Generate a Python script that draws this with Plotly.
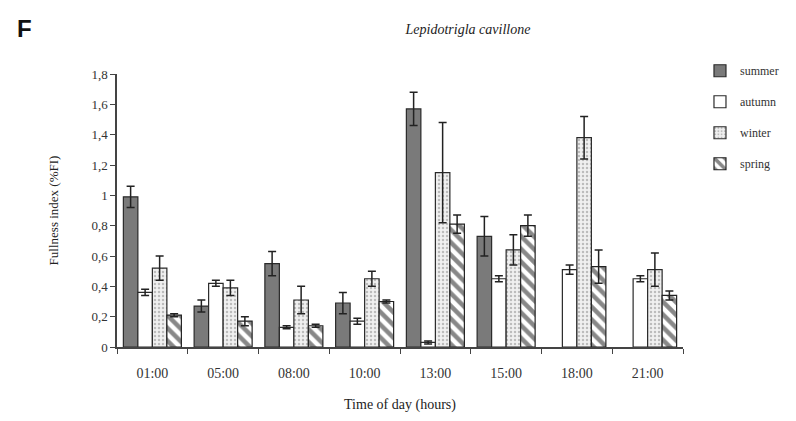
import plotly.graph_objects as go

categories = ["01:00", "05:00", "08:00", "10:00", "13:00", "15:00", "18:00", "21:00"]
summer = [0.99, 0.27, 0.55, 0.29, 1.57, 0.73, None, None]
summer_err = [0.07, 0.04, 0.08, 0.07, 0.11, 0.13, None, None]
autumn = [0.36, 0.42, 0.13, 0.17, 0.03, 0.45, 0.51, 0.45]
autumn_err = [0.02, 0.02, 0.01, 0.02, 0.01, 0.02, 0.03, 0.02]
winter = [0.52, 0.39, 0.31, 0.45, 1.15, 0.64, 1.38, 0.51]
winter_err = [0.08, 0.05, 0.09, 0.05, 0.33, 0.10, 0.14, 0.11]
spring = [0.21, 0.17, 0.14, 0.30, 0.81, 0.80, 0.53, 0.34]
spring_err = [0.01, 0.03, 0.01, 0.01, 0.06, 0.07, 0.11, 0.03]

ytick_vals = [0, 0.2, 0.4, 0.6, 0.8, 1.0, 1.2, 1.4, 1.6, 1.8]
ytick_text = ["0", "0,2", "0,4", "0,6", "0,8", "1", "1,2", "1,4", "1,6", "1,8"]

FONT = "Liberation Serif"
err_style = dict(type="data", thickness=1.5, width=4, color="#222")

fig = go.Figure()
fig.add_trace(go.Bar(
    name="summer", x=categories, y=summer,
    error_y=dict(array=summer_err, **err_style),
    marker=dict(color="#7a7a7a", line=dict(color="#2a2a2a", width=1.2)),
    legendgroup="a",
))
fig.add_trace(go.Bar(
    name="autumn", x=categories, y=autumn,
    error_y=dict(array=autumn_err, **err_style),
    marker=dict(color="white", line=dict(color="#2a2a2a", width=1.2)),
    legendgroup="b",
))
fig.add_trace(go.Bar(
    name="winter", x=categories, y=winter,
    error_y=dict(array=winter_err, **err_style),
    marker=dict(color="#eeeeee", line=dict(color="#2a2a2a", width=1.2),
                pattern=dict(shape=".", fgcolor="#888", bgcolor="#f0f0f0",
                             size=4, solidity=0.3)),
    legendgroup="c",
))
fig.add_trace(go.Bar(
    name="spring", x=categories, y=spring,
    error_y=dict(array=spring_err, **err_style),
    marker=dict(color="white", line=dict(color="#222", width=1.2),
                pattern=dict(shape="\\", fgcolor="#111", bgcolor="white",
                             size=9, solidity=0.5)),
    legendgroup="d",
))

fig.update_layout(
    width=796, height=421,
    margin=dict(l=117, r=109, t=74, b=74),
    paper_bgcolor="white", plot_bgcolor="white",
    barmode="group", bargap=0.18, bargroupgap=0,
    font=dict(family=FONT, size=13, color="#222"),
    showlegend=True,
    legend=dict(x=1.03, y=1.065, xanchor="left", yanchor="top",
                font=dict(family=FONT, size=12, color="#333"),
                traceorder="grouped", tracegroupgap=12,
                itemwidth=30, bgcolor="rgba(0,0,0,0)"),
    title=dict(text="<i>Lepidotrigla cavillone</i>", x=468 / 796, xanchor="center",
               y=1 - 29 / 421, yanchor="middle",
               font=dict(family=FONT, size=14, color="#222")),
    annotations=[dict(text="<b>F</b>", x=(14 - 117) / 570, y=(347 - 29) / 273,
                      xref="paper", yref="paper",
                      xanchor="left", yanchor="middle", showarrow=False,
                      font=dict(family="Liberation Sans", size=24, color="#111"))],
)
fig.update_xaxes(
    showline=True, linecolor="#444", linewidth=1.5,
    ticks="outside", tickson="boundaries", ticklen=5, tickcolor="#444",
    ticklabelstandoff=12,
    tickfont=dict(family=FONT, size=14, color="#333"),
    title=dict(text="Time of day (hours)", font=dict(family=FONT, size=14, color="#222"), standoff=20),
    showgrid=False,
)
fig.update_yaxes(
    range=[0, 1.8], tickvals=ytick_vals, ticktext=ytick_text,
    showline=True, linecolor="#444", linewidth=1.5,
    ticks="outside", ticklen=5, tickcolor="#444",
    tickfont=dict(family=FONT, size=13, color="#333"),
    title=dict(text="Fullness index (%FI)", font=dict(family=FONT, size=13, color="#222"), standoff=30),
    showgrid=False, zeroline=False,
)

fig.write_html("out.html")
